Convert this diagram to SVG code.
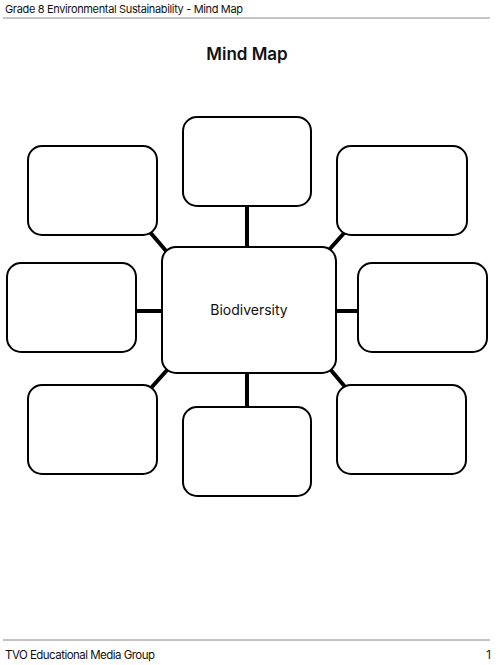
<svg xmlns="http://www.w3.org/2000/svg" width="500" height="665" viewBox="0 0 500 665">
<style>
.box{fill:#fff;stroke:#000;stroke-width:2}
.con{stroke:#000;stroke-width:4;fill:none}
.rule{stroke:#888;stroke-width:1}
text{font-family:Inter,"Liberation Sans",sans-serif;fill:#111}
</style>
<rect width="500" height="665" fill="#fff"/>
<text x="5" y="13" font-size="11" textLength="238">Grade 8 Environmental Sustainability - Mind Map</text>
<line class="rule" x1="3" y1="18" x2="490" y2="18"/>
<text x="247" y="60" font-size="17" font-weight="600" text-anchor="middle">Mind Map</text>
<g id="connectors">
<line class="con" x1="247" y1="206" x2="247" y2="247"/>
<line class="con" x1="247" y1="373" x2="247" y2="407"/>
<line class="con" x1="136" y1="311" x2="162" y2="311"/>
<line class="con" x1="336" y1="311" x2="358" y2="311"/>
<line class="con" x1="149" y1="231" x2="167" y2="252"/>
<line class="con" x1="345" y1="232" x2="328" y2="251"/>
<line class="con" x1="151" y1="388" x2="168" y2="369"/>
<line class="con" x1="330" y1="369" x2="346" y2="388"/>
</g>
<g id="center"><rect class="box" x="162" y="247" width="174" height="126" rx="14"/>
<text x="249" y="315" font-size="14" text-anchor="middle">Biodiversity</text></g>
<g id="top"><rect class="box" x="183" y="117" width="128" height="89" rx="14"/></g>
<g id="top-left"><rect class="box" x="28" y="146" width="129" height="89" rx="14"/></g>
<g id="top-right"><rect class="box" x="337" y="146" width="130" height="89" rx="14"/></g>
<g id="left"><rect class="box" x="7" y="263" width="129" height="89" rx="14"/></g>
<g id="right"><rect class="box" x="358" y="263" width="129" height="89" rx="14"/></g>
<g id="bottom-left"><rect class="box" x="28" y="385" width="129" height="89" rx="14"/></g>
<g id="bottom"><rect class="box" x="183" y="407" width="128" height="89" rx="14"/></g>
<g id="bottom-right"><rect class="box" x="337" y="385" width="129" height="89" rx="14"/></g>
<line class="rule" x1="3" y1="640" x2="490" y2="640"/>
<text x="5" y="659" font-size="11.5" textLength="150">TVO Educational Media Group</text>
<text x="491" y="659" font-size="11.5" text-anchor="end">1</text>
</svg>
